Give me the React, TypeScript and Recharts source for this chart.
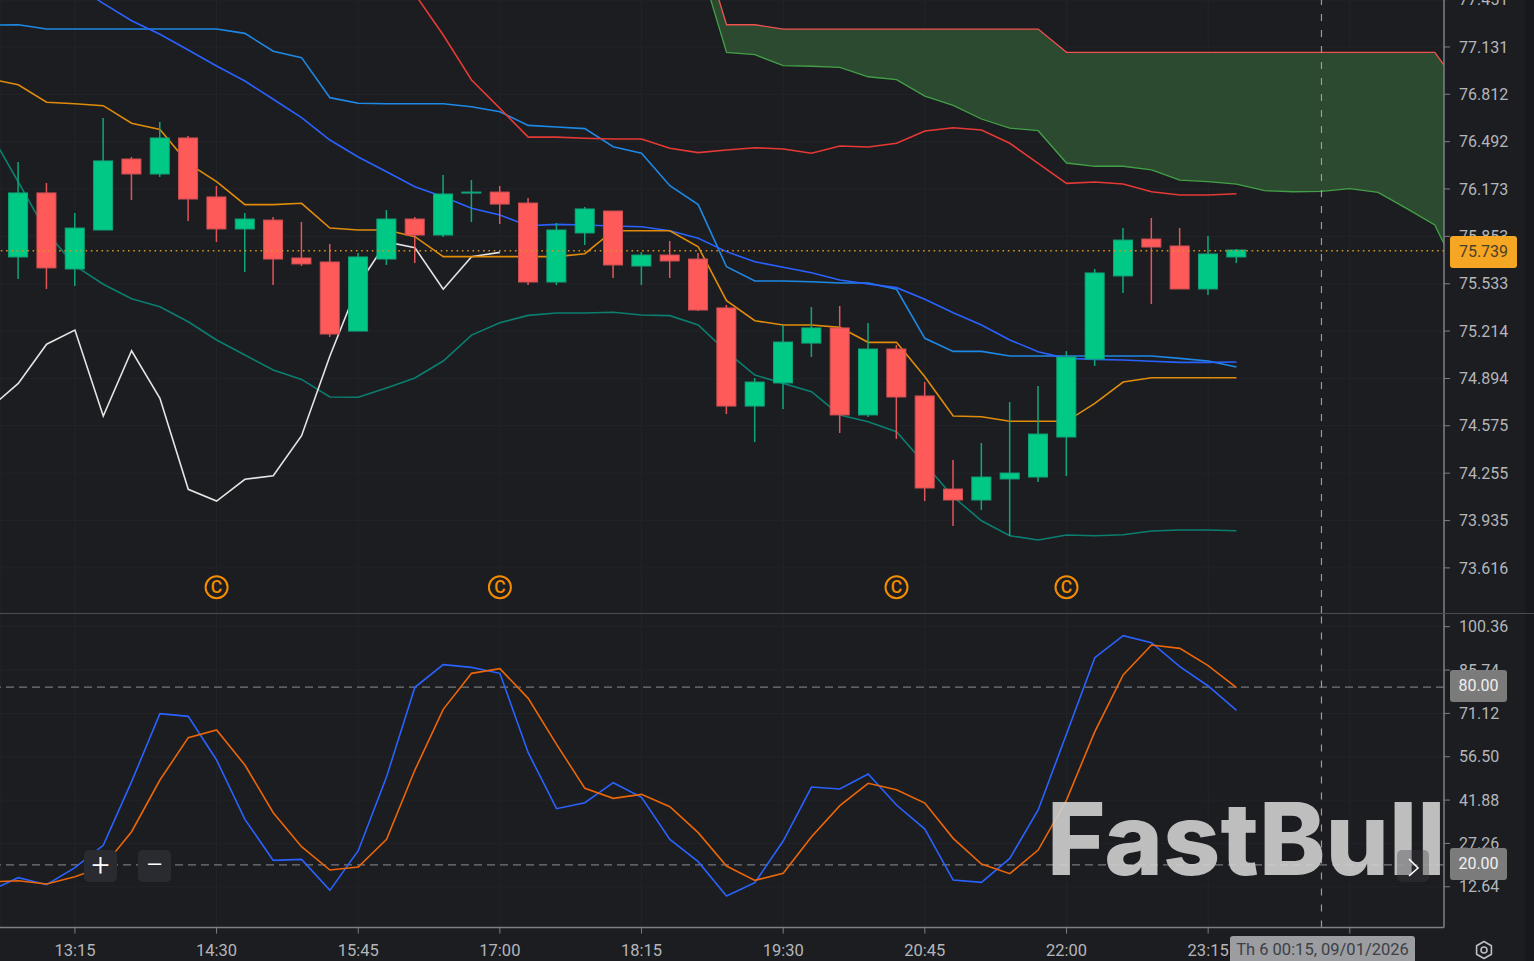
import React from 'react'
import { ComposedChart, Line, Bar, Area, XAxis, YAxis, CartesianGrid, ReferenceLine, ReferenceDot } from 'recharts'

const pad = (n: number, arr: number[]) => [...Array(n).fill(null), ...arr]

// 15 minute slots, the ones after 23:30 only carry the cloud
const times = [
  '12:30', '12:45', '13:00', '13:15', '13:30', '13:45', '14:00', '14:15', '14:30', '14:45',
  '15:00', '15:15', '15:30', '15:45', '16:00', '16:15', '16:30', '16:45', '17:00', '17:15',
  '17:30', '17:45', '18:00', '18:15', '18:30', '18:45', '19:00', '19:15', '19:30', '19:45',
  '20:00', '20:15', '20:30', '20:45', '21:00', '21:15', '21:30', '21:45', '22:00', '22:15',
  '22:30', '22:45', '23:00', '23:15', '23:30', '23:45', '00:00', '00:15', '00:30', '00:45',
  '01:00', '01:15', '01:30',
]
const timeLabels = ['13:15', '14:30', '15:45', '17:00', '18:15', '19:30', '20:45', '22:00', '23:15', '00:30']
const crosshairTime = '00:15'
const signalTimes = ['14:30', '17:00', '20:30', '22:00']

const priceTicks = [77.451, 77.131, 76.812, 76.492, 76.173, 75.853, 75.533, 75.214, 74.894, 74.575, 74.255, 73.935, 73.616]
const stochTicks = [100.36, 85.74, 71.12, 56.5, 41.88, 27.26, 12.64]
const stochLevels = [80, 20]
const lastPriceLevel = 75.756
const signalLevel = 73.485

const opens = pad(1, [
  75.714, 76.146, 75.633, 75.896, 76.375, 76.274, 76.517, 76.119, 75.903, 75.963, 75.707, 75.68, 75.214, 75.7, 75.97,
  75.862, 76.146, 76.152, 76.078, 75.545, 75.876, 76.024, 75.653, 75.727, 75.7, 75.37, 74.708, 74.864, 75.133, 75.235,
  74.648, 75.093, 74.776, 74.148, 74.074, 74.216, 74.229, 74.499, 75.025, 75.586, 75.835, 75.788, 75.498, 75.714,
])
const highs = pad(1, [
  76.355, 76.213, 76.011, 76.652, 76.389, 76.625, 76.53, 76.193, 76.011, 75.984, 75.95, 75.801, 75.741, 76.031, 75.984,
  76.267, 76.233, 76.193, 76.112, 75.943, 76.051, 76.024, 75.747, 75.822, 75.741, 75.39, 74.897, 75.255, 75.376, 75.383,
  75.268, 75.12, 74.87, 74.344, 74.459, 74.735, 74.843, 75.079, 75.633, 75.909, 75.977, 75.909, 75.855, 75.768,
])
const lows = pad(1, [
  75.565, 75.498, 75.518, 75.896, 76.098, 76.254, 75.957, 75.815, 75.613, 75.525, 75.653, 75.174, 75.214, 75.66, 75.673,
  75.849, 75.95, 75.936, 75.525, 75.525, 75.795, 75.572, 75.525, 75.572, 75.349, 74.654, 74.465, 74.688, 75.039, 74.526,
  74.634, 74.486, 74.067, 73.898, 74.006, 73.831, 74.195, 74.236, 74.978, 75.471, 75.397, 75.498, 75.457, 75.673,
])
const closes = pad(1, [
  76.146, 75.64, 75.909, 76.362, 76.274, 76.517, 76.105, 75.903, 75.97, 75.7, 75.667, 75.194, 75.714, 75.97, 75.862,
  76.139, 76.152, 76.071, 75.545, 75.896, 76.038, 75.66, 75.727, 75.687, 75.356, 74.708, 74.87, 75.14, 75.235, 74.648,
  75.093, 74.769, 74.155, 74.074, 74.229, 74.256, 74.519, 75.039, 75.606, 75.828, 75.781, 75.498, 75.734, 75.761,
])

const lightBlueLine = [
  77.279, 77.281, 77.252, 77.252, 77.252, 77.252, 77.252, 77.252, 77.252, 77.223, 77.102, 77.059, 76.789, 76.751, 76.748,
  76.748, 76.748, 76.728, 76.694, 76.602, 76.591, 76.58, 76.458, 76.414, 76.195, 76.067, 75.648, 75.552, 75.552, 75.547,
  75.538, 75.538, 75.496, 75.165, 75.077, 75.077, 75.046, 75.046, 75.046, 75.046, 75.046, 75.046, 75.03, 75.012, 74.972,
]
const blueLine = [
  77.954, 77.819, 77.684, 77.549, 77.425, 77.308, 77.217, 77.111, 77.003, 76.901, 76.778, 76.654, 76.503, 76.389, 76.289,
  76.188, 76.121, 76.042, 75.997, 75.925, 75.934, 75.93, 75.923, 75.918, 75.891, 75.84, 75.75, 75.682, 75.644, 75.608,
  75.559, 75.532, 75.507, 75.428, 75.338, 75.255, 75.154, 75.075, 75.03, 75.023, 75.019, 75.01, 75.003, 75.003, 75.005,
]
const orangeLine = [
  76.916, 76.876, 76.758, 76.748, 76.735, 76.616, 76.575, 76.346, 76.222, 76.067, 76.067, 76.076, 75.909, 75.896, 75.896,
  75.851, 75.716, 75.716, 75.716, 75.716, 75.716, 75.736, 75.891, 75.891, 75.891, 75.783, 75.419, 75.284, 75.255, 75.255,
  75.239, 75.138, 75.138, 74.906, 74.641, 74.636, 74.605, 74.605, 74.605, 74.726, 74.87, 74.899, 74.899, 74.899, 74.899,
]
const tealLine = [
  76.557, 76.22, 75.882, 75.655, 75.53, 75.432, 75.378, 75.277, 75.154, 75.052, 74.951, 74.888, 74.769, 74.767, 74.83,
  74.897, 75.012, 75.187, 75.27, 75.32, 75.336, 75.336, 75.341, 75.322, 75.318, 75.255, 75.075, 74.917, 74.861, 74.805,
  74.648, 74.602, 74.535, 74.317, 74.096, 73.934, 73.833, 73.804, 73.838, 73.833, 73.84, 73.865, 73.872, 73.872, 73.867,
]
const redLine = pad(14, [
  77.752, 77.488, 77.212, 76.908, 76.717, 76.523, 76.523, 76.515, 76.51, 76.51, 76.447, 76.418, 76.436, 76.451, 76.443,
  76.414, 76.463, 76.456, 76.481, 76.564, 76.586, 76.571, 76.481, 76.346, 76.211, 76.22, 76.206, 76.154, 76.132, 76.132, 76.141,
])
const whiteLine = [
  74.695, 74.861, 75.125, 75.221, 74.641, 75.081, 74.76, 74.146, 74.067, 74.214, 74.238, 74.508, 75.046, 75.525, 75.815,
  75.777, 75.496, 75.716, 75.745,
]
const cloudUpper = pad(25, [
  77.907, 77.281, 77.281, 77.252, 77.252, 77.252, 77.252, 77.252, 77.252, 77.252, 77.252, 77.252, 77.252, 77.095,
  77.095, 77.095, 77.095, 77.095, 77.095, 77.095, 77.095, 77.095, 77.095, 77.095, 77.095, 77.095, 77.095, 76.827,
])
const cloudLower = pad(25, [
  77.731, 77.095, 77.079, 77.005, 77.001, 76.994, 76.93, 76.91, 76.8, 76.737, 76.645, 76.584, 76.566, 76.348,
  76.326, 76.326, 76.301, 76.233, 76.222, 76.206, 76.161, 76.154, 76.157, 76.175, 76.15, 76.042, 75.93, 75.538,
])

const stochK = [
  11.32, 15.71, 13.35, 19.08, 26.61, 48.09, 71.02, 70.12, 55.4, 35.38, 21.56, 21.89, 11.44, 24.82, 49.77,
  79.91, 87.55, 86.65, 84.63, 57.87, 38.98, 41.01, 47.75, 42.8, 28.64, 21.11, 9.52, 14.02, 28.08, 46.29,
  45.61, 50.67, 40.22, 32.12, 14.92, 14.13, 22.23, 38.53, 64.17, 89.91, 97.33, 94.97, 86.88, 80.36, 72.15,
]
const stochD = [
  14.25, 14.7, 13.57, 16.05, 19.42, 31.22, 48.65, 62.93, 65.52, 53.71, 37.63, 26.16, 18.29, 19.31, 28.64,
  52.02, 72.49, 84.63, 86.2, 76.2, 60.68, 45.84, 42.47, 43.82, 39.66, 30.89, 19.64, 14.81, 17.17, 29.54,
  39.99, 47.53, 45.39, 40.89, 28.98, 20.32, 17.06, 25.04, 41.9, 64.95, 84.07, 94.18, 93.06, 87.21, 79.79,
]

const rows = times.map((time, slot) => ({
  slot,
  time,
  open: opens[slot] ?? null,
  high: highs[slot] ?? null,
  low: lows[slot] ?? null,
  close: closes[slot] ?? null,
  range: highs[slot] != null ? [lows[slot], highs[slot]] : null,
  lightBlue: lightBlueLine[slot] ?? null,
  blue: blueLine[slot] ?? null,
  orange: orangeLine[slot] ?? null,
  teal: tealLine[slot] ?? null,
  red: redLine[slot] ?? null,
  white: whiteLine[slot] ?? null,
  upper: cloudUpper[slot] ?? null,
  lower: cloudLower[slot] ?? null,
  cloud: cloudUpper[slot] != null ? [cloudLower[slot], cloudUpper[slot]] : null,
  k: stochK[slot] ?? null,
  d: stochD[slot] ?? null,
}))

const xDomain = [0.355, 51.325]
const xTicks = timeLabels.map(t => times.indexOf(t))
const crosshairSlot = times.indexOf(crosshairTime)

const BG = '#1c1d21'
const GRID = '#232429'
const AXIS = '#7d7f84'
const TEXT = '#b4b6ba'
const tickStyle = { fill: TEXT, fontSize: 16, fontFamily: 'Roboto' }

const Candle = (props: any) => {
  const { x, y, width, height, payload } = props
  if (payload.open == null) return null
  const up = payload.close >= payload.open
  const k = height / (payload.high - payload.low)
  const top = y + (payload.high - Math.max(payload.open, payload.close)) * k
  const bodyH = Math.max(Math.abs(payload.open - payload.close) * k, 1)
  const cx = x + width / 2
  return (
    <g>
      <line x1={cx} x2={cx} y1={y} y2={y + height} stroke={up ? '#0fa878' : '#e4555a'} strokeWidth={1.5} />
      <rect
        x={x + 0.5}
        y={top}
        width={width - 1}
        height={bodyH}
        fill={up ? '#00c986' : '#ff5a5a'}
        stroke={up ? '#10a47a' : '#cf5053'}
        strokeWidth={1}
      />
    </g>
  )
}

const Signal = (props: any) => (
  <g>
    <circle cx={props.cx} cy={props.cy} r={11} fill="none" stroke="#f28c00" strokeWidth={2} />
    <text x={props.cx} y={props.cy + 6} textAnchor="middle" fill="#f28c00" fontSize={17.5} fontWeight={500} fontFamily="Roboto">
      C
    </text>
  </g>
)

const priceLine = (key: string, color: string, width = 1.6) => (
  <Line
    dataKey={key}
    stroke={color}
    strokeWidth={width}
    dot={false}
    activeDot={false}
    isAnimationActive={false}
    zIndex={200}
  />
)

const badge = (left: number, top: number, width: number, height: number, bg: string, color: string, text: string) => (
  <div
    style={{
      position: 'absolute', left, top, width, height, background: bg, color, borderRadius: 3,
      font: '16px Roboto', lineHeight: `${height}px`, textAlign: 'center',
    }}
  >
    {text}
  </div>
)

const zoomBtn = (left: number, text: string) => (
  <div
    style={{
      position: 'absolute', left, top: 850, width: 33, height: 32, background: '#2a2b30', borderRadius: 5,
      color: '#fff', font: '300 32px/31px Roboto', textAlign: 'center',
    }}
  >
    {text}
  </div>
)

export default function App() {
  return (
    <div style={{ position: 'absolute', left: 0, top: 0, width: 1534, height: 961, overflow: 'hidden', background: BG }}>
      <div style={{ position: 'absolute', left: 1525, top: 0, width: 9, height: 961, background: '#17181b' }} />

      <div style={{ position: 'absolute', left: 0, top: 0 }}>
        <ComposedChart width={1534} height={613} data={rows} margin={{ top: 0, right: 0, bottom: 0, left: 0 }}>
          <CartesianGrid stroke={GRID} />
          <XAxis hide type="number" dataKey="slot" domain={xDomain} ticks={xTicks} allowDataOverflow />
          <YAxis
            orientation="right"
            width={90}
            domain={[73.3115, 77.448]}
            ticks={priceTicks}
            interval={0}
            allowDataOverflow
            tick={tickStyle}
            tickFormatter={(v: number) => v.toFixed(3)}
            tickSize={6}
            tickMargin={9}
            axisLine={{ stroke: AXIS, strokeWidth: 1.5 }}
            tickLine={{ stroke: AXIS }}
          />
          <Area dataKey="cloud" fill="#2c4a2f" fillOpacity={1} stroke="none" dot={false} activeDot={false} isAnimationActive={false} zIndex={100} />
          {priceLine('lower', '#43a047', 1.3)}
          {priceLine('upper', '#ef5350', 1.3)}
          {priceLine('lightBlue', '#1e88e5')}
          {priceLine('blue', '#2962ff')}
          {priceLine('red', '#e53935')}
          {priceLine('teal', '#0a7f70')}
          {priceLine('white', '#e4e4e4')}
          {priceLine('orange', '#e08c0a')}
          <Bar dataKey="range" barSize={20} shape={Candle} isAnimationActive={false} zIndex={300} />
          <ReferenceLine y={lastPriceLevel} stroke="#d8921f" strokeWidth={1.4} strokeDasharray="1.6 3.7" />
          <ReferenceLine x={crosshairSlot} stroke="#9a9b9e" strokeWidth={1.2} strokeDasharray="7 9" />
          {signalTimes.map(t => (
            <ReferenceDot key={t} x={times.indexOf(t)} y={signalLevel} shape={Signal} />
          ))}
        </ComposedChart>
      </div>

      <div style={{ position: 'absolute', left: 0, top: 613 }}>
        <ComposedChart width={1534} height={348} data={rows} margin={{ top: 0, right: 0, bottom: 0, left: 0 }}>
          <CartesianGrid stroke={GRID} />
          <XAxis
            type="number"
            dataKey="slot"
            domain={xDomain}
            ticks={xTicks}
            interval={0}
            allowDataOverflow
            height={33.5}
            tick={{ ...tickStyle, fontSize: 16.5 }}
            tickFormatter={(v: number) => times[v]}
            tickSize={6}
            tickMargin={11}
            axisLine={{ stroke: AXIS, strokeWidth: 1.5 }}
            tickLine={{ stroke: AXIS }}
          />
          <YAxis
            orientation="right"
            width={90}
            domain={[-1.09, 104.98]}
            ticks={stochTicks}
            interval={0}
            allowDataOverflow
            tick={tickStyle}
            tickFormatter={(v: number) => v.toFixed(2)}
            tickSize={6}
            tickMargin={9}
            axisLine={{ stroke: AXIS, strokeWidth: 1.5 }}
            tickLine={{ stroke: AXIS }}
          />
          {stochLevels.map(v => (
            <ReferenceLine key={v} y={v} stroke="#77787b" strokeWidth={1.2} strokeDasharray="8 5" />
          ))}
          <ReferenceLine x={crosshairSlot} stroke="#9a9b9e" strokeWidth={1.2} strokeDasharray="7 9" />
          <Line dataKey="k" stroke="#2962ff" strokeWidth={1.6} dot={false} activeDot={false} isAnimationActive={false} />
          <Line dataKey="d" stroke="#ec6608" strokeWidth={1.6} dot={false} activeDot={false} isAnimationActive={false} />
        </ComposedChart>
      </div>

      <div style={{ position: 'absolute', left: 0, top: 613, width: 1534, height: 1, background: '#4b4c50' }} />

      <div
        style={{
          position: 'absolute', left: 1047, top: 788, font: '800 100px/102px Inter', color: 'rgba(208,208,208,0.9)',
          whiteSpace: 'nowrap',
        }}
      >
        FastBull
      </div>

      {badge(1450, 236, 67, 32, '#f5a623', '#4a3f2a', '75.739')}
      {badge(1450, 670, 57, 32, '#7b7b7b', '#f0f0f0', '80.00')}
      {badge(1450, 848, 57, 32, '#7b7b7b', '#f0f0f0', '20.00')}
      {zoomBtn(84, '+')}
      {zoomBtn(138, '−')}

      <div style={{ position: 'absolute', left: 1397, top: 850, width: 32, height: 32, background: 'rgba(60,60,65,0.35)', borderRadius: 5 }}>
        <svg width={32} height={32}>
          <polyline points="12,9 21,18 12,26" fill="none" stroke="#fff" strokeWidth={1.6} />
        </svg>
      </div>

      <div
        style={{
          position: 'absolute', left: 1230, top: 936, width: 185, height: 25, background: '#9b9da1', color: '#3d4046',
          borderRadius: '3px 3px 0 0', font: '16.5px/27px Roboto', textAlign: 'center',
        }}
      >
        Th 6 00:15, 09/01/2026
      </div>

      <svg style={{ position: 'absolute', left: 1474, top: 940 }} width={20} height={20} viewBox="0 0 20 20">
        <path d="M10 1.5 L17.4 5.75 V14.25 L10 18.5 L2.6 14.25 V5.75 Z" fill="none" stroke="#bdbfc2" strokeWidth={1.6} strokeLinejoin="round" />
        <circle cx={10} cy={10} r={3} fill="none" stroke="#bdbfc2" strokeWidth={1.6} />
      </svg>
    </div>
  )
}
